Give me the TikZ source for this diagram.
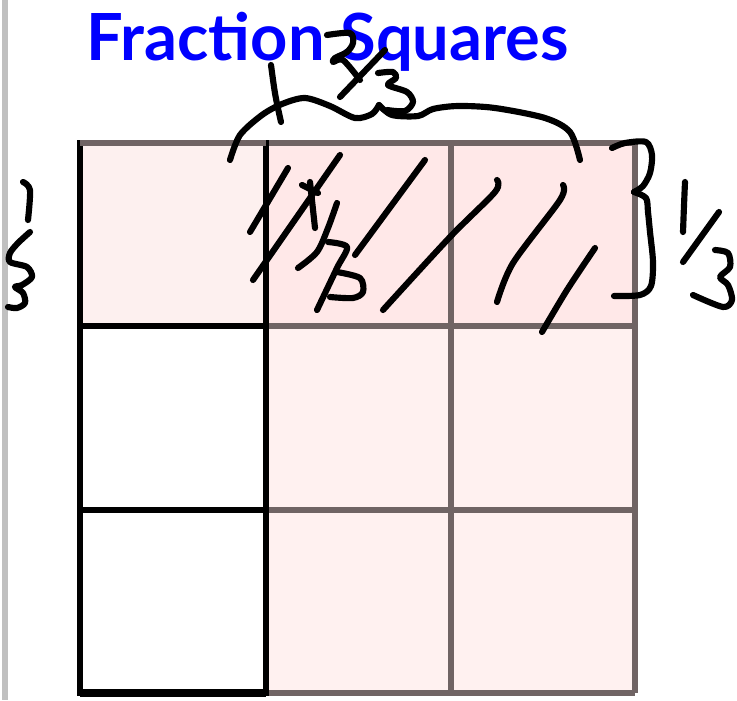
\documentclass[tikz,border=0pt]{standalone}
\usepackage{fontspec}
\newfontfamily\titlefont{Lato}
\definecolor{titleblue}{RGB}{0,0,255}
\definecolor{toppink}{RGB}{255,232,232}
\definecolor{cornerpink}{RGB}{253,240,239}
\definecolor{cellpink}{RGB}{255,241,240}
\definecolor{gridgray}{RGB}{112,100,100}
\definecolor{edgegray}{RGB}{192,192,192}

\begin{document}
\begin{tikzpicture}[x=0.02cm,y=-0.02cm,
    pen/.style={line width=3.5pt,line cap=round,line join=round},
    thinframe/.style={draw=gridgray,line width=3.4pt},
    boldframe/.style={draw=black,line width=3.8pt}]
  \useasboundingbox (0,0) rectangle (737,700);
  \fill[white] (0,0) rectangle (737,700);
  \fill[edgegray] (2,0) rectangle (8,700);

  % the nine fraction squares
  \fill[cellpink] (266,326) rectangle (635,693);
  \fill[toppink] (266,143) rectangle (635,326);
  \fill[cornerpink] (80,143) rectangle (266,326);
  \foreach \x in {266,451,635}
    \draw[thinframe] (\x,143) -- (\x,693);
  \foreach \y in {143,326,510,693}
    \draw[thinframe] (266,\y) -- (635,\y);
  \foreach \y/\yy in {143/326,326/510,510/693}
    \draw[boldframe] (80,\y) rectangle (266,\yy);
  \draw[boldframe,line width=5pt] (80,693) -- (266,693);
  \draw[thinframe] (80,143) -- (266,143);

  \node[text=titleblue,font=\titlefont\bfseries\fontsize{37}{37}\selectfont,
        anchor=base west,inner sep=0pt] (title) at (86,60) {Fraction Squares};

  % 2/3 over the top
  \draw[pen] (271,65) .. controls (275,95) .. (281,122);
  \draw[pen] plot[smooth] coordinates {(230,160) (240,135) (262,115) (282,104)
    (305,98) (330,106) (355,118) (372,114) (379,105)};
  \draw[pen] plot[smooth] coordinates {(379,105) (392,115) (418,116) (433,109)
    (458,106) (495,108) (545,118) (570,132) (580,160)};
  \draw[pen] plot[smooth] coordinates {(327,35) (350,33) (353,43) (347,52)
    (335,58) (333,62) (343,60) (360,80)};
  \draw[pen] (385,50) -- (340,97);
  \draw[pen] plot[smooth] coordinates {(378,73) (393,72) (396,78) (388,85)
    (407,92) (413,102) (405,111) (387,110)};

  % 1/3 on the left
  \draw[pen] plot[smooth] coordinates {(23,182) (30,190) (28,220)};
  \draw[pen] plot[smooth] coordinates {(30,232) (18,243) (10,253) (10,262)
    (27,267) (32,277) (22,285) (15,287) (23,293) (25,303) (17,308) (8,307)};

  % 1/3 on the right
  \draw[pen] plot[smooth] coordinates {(612,148) (625,143) (646,142) (652,155)
    (650,173) (643,186) (634,192)};
  \draw[pen] plot[smooth] coordinates {(634,192) (646,198) (648,212) (650,232)
    (653,262) (651,286) (640,295) (614,296)};
  \draw[pen] (685,182) .. controls (684,205) .. (683,232);
  \draw[pen] (719,212) -- (683,262);
  \draw[pen] plot[smooth] coordinates {(715,250) (728,253) (730,267) (720,277)
    (728,285) (732,300) (723,307) (693,295)};

  % hatching of the top row and 1/2
  \draw[pen] (288,168) -- (250,232);
  \draw[pen] (340,155) -- (253,280);
  \draw[pen] (310,182) .. controls (312,205) .. (315,228);
  \draw[pen] (302,185) -- (318,193);
  \draw[pen] plot[smooth] coordinates {(337,203) (328,228) (317,252) (298,268)};
  \draw[pen] plot[smooth] coordinates {(328,242) (347,247) (337,268) (317,310)};
  \draw[pen] plot[smooth] coordinates {(337,272) (360,278) (363,292) (353,298) (330,297)};
  \draw[pen] (425,160) -- (355,255);
  \draw[pen] plot[smooth] coordinates {(497,180) (495,192) (450,237) (383,310)};
  \draw[pen] plot[smooth] coordinates {(563,185) (560,200) (513,263) (497,302)};
  \draw[pen] plot[smooth] coordinates {(595,248) (567,290) (542,332)};
\end{tikzpicture}
\end{document}
